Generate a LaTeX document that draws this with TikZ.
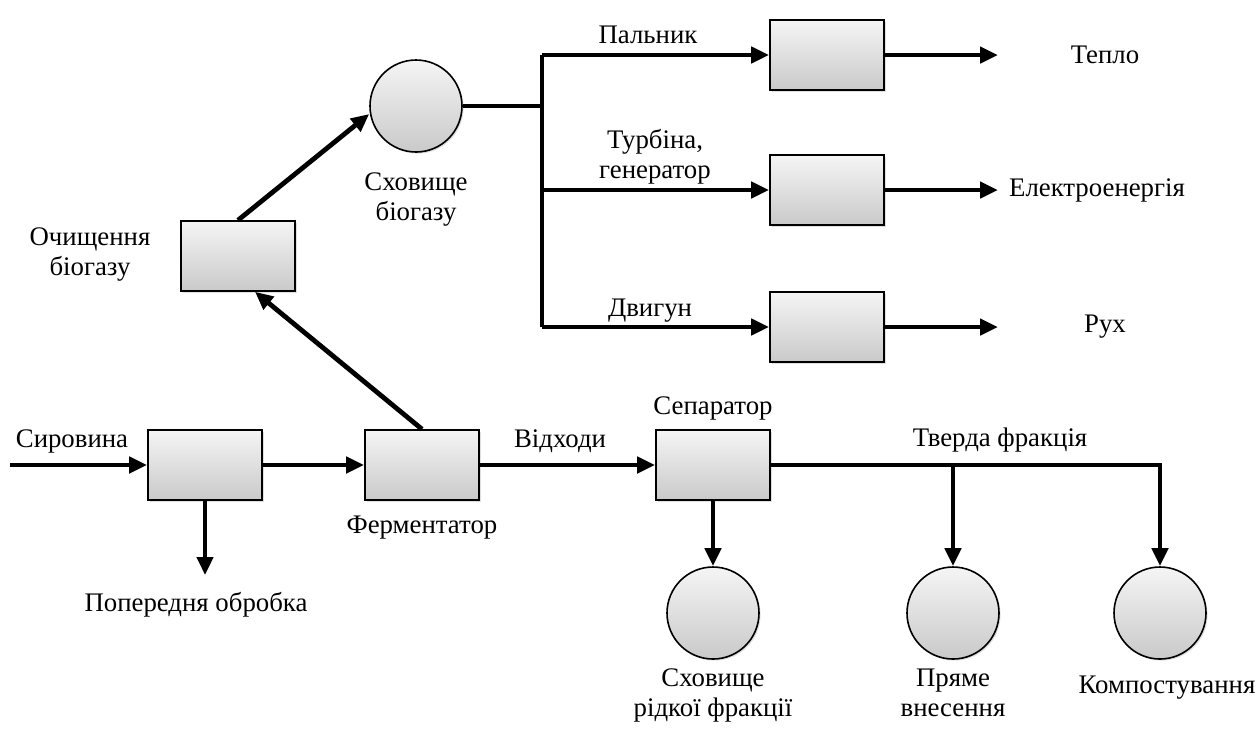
\documentclass[tikz,border=0pt]{standalone}
\usepackage{fontspec}
\setmainfont{Liberation Serif}
\usetikzlibrary{arrows.meta,shadows}

\tikzset{
  unit/.style={draw, line width=0.8pt, minimum width=57pt, minimum height=35pt,
    top color=gray!8, bottom color=gray!42,
    drop shadow={opacity=0.25, shadow xshift=0.8pt, shadow yshift=-0.8pt}},
  tank/.style={unit, circle, minimum width=46pt, minimum height=46pt, inner sep=0pt},
  flow/.style={line width=2.4pt, ->},
  lbl/.style={font=\rmfamily\fontsize{13.4}{15}\selectfont, align=center, inner sep=1pt}
}

\begin{document}
\begin{tikzpicture}[x=0.5pt, y=-0.5pt, >={Triangle[length=9pt,width=8pt]}]
    \useasboundingbox (0,0) rectangle (1258,736);

    % units
    \node[unit] (pre) at (205,465) {};
    \node[unit] (ferm) at (422,465) {};
    \node[unit] (clean) at (238,256) {};
    \node[tank] (stor) at (416,106) {};
    \node[unit] (burn) at (827,55) {};
    \node[unit] (turb) at (827,190) {};
    \node[unit] (eng) at (827,327) {};
    \node[unit] (sep) at (713,465) {};
    \node[tank] (liq) at (713,613) {};
    \node[tank] (direct) at (953,613) {};
    \node[tank] (comp) at (1160,613) {};

    % texts
    \node[lbl] (tsir) at (72,441) {Сировина};
    \node[lbl] (tpre) at (196,605) {Попередня обробка};
    \node[lbl] (tferm) at (422,528) {Ферментатор};
    \node[lbl] (tclean) at (90,255) {Очищення\\біогазу};
    \node[lbl] (tstor) at (416,200) {Сховище\\біогазу};
    \node[lbl] (tburn) at (648,35) {Пальник};
    \node[lbl] (tturb) at (655,157) {Турбіна,\\генератор};
    \node[lbl] (teng) at (650,311) {Двигун};
    \node[lbl] (theat) at (1105,55) {Тепло};
    \node[lbl] (telec) at (1097,190) {Електроенергія};
    \node[lbl] (tmove) at (1105,327) {Рух};
    \node[lbl] (twaste) at (560,441) {Відходи};
    \node[lbl] (tsep) at (713,408) {Сепаратор};
    \node[lbl] (tsolid) at (1000,440) {Тверда фракція};
    \node[lbl] (tliq) at (713,695) {Сховище\\рідкої фракції};
    \node[lbl] (tdirect) at (953,693) {Пряме\\внесення};
    \node[lbl] (tcomp) at (1167,688) {Компостування};

    \coordinate (in) at (10,465);
    \coordinate (preout) at (205,575);
    \coordinate (tr0) at (542,106);
    \coordinate (tr1) at (542,55);
    \coordinate (tr2) at (542,190);
    \coordinate (tr3) at (542,327);
    \coordinate (o1) at (998,55);
    \coordinate (o2) at (998,190);
    \coordinate (o3) at (998,327);
    \coordinate (split) at (953,465);

    % flows
    \draw[flow] (in) -- (pre.west);
    \draw[flow] (pre.east) -- (ferm.west);
    \draw[flow] (pre.south) -- (preout);
    \draw[flow] (ferm.north) -- ([xshift=8.5pt]clean.south);
    \draw[flow] (clean.north) -- ([yshift=-4pt]stor.west);
    \draw[line width=2.4pt] (stor.east) -- (tr0);
    \draw[line width=2.4pt] (tr1) -- (tr3);
    \draw[flow] (tr1) -- (burn.west);
    \draw[flow] (tr2) -- (turb.west);
    \draw[flow] (tr3) -- (eng.west);
    \draw[flow] (burn.east) -- (o1);
    \draw[flow] (turb.east) -- (o2);
    \draw[flow] (eng.east) -- (o3);
    \draw[flow] (ferm.east) -- (sep.west);
    \draw[flow] (sep.south) -- (liq.north);
    \draw[flow] (sep.east) -| (comp.north);
    \draw[flow] (split) -- (direct.north);
\end{tikzpicture}
\end{document}
